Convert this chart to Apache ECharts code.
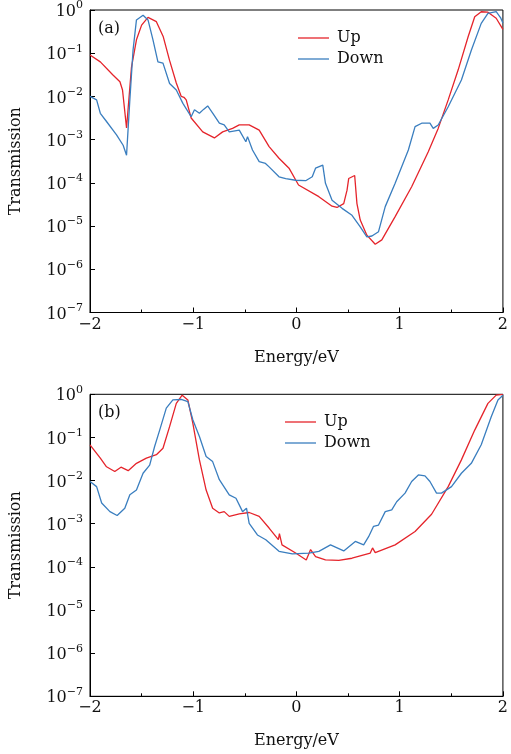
<!DOCTYPE html>
<html>
<head>
<meta charset="utf-8">
<script src="https://cdn.jsdelivr.net/npm/echarts@6/dist/echarts.min.js"></script>
<style>
  html, body { margin: 0; padding: 0; background: #fff; }
  #chart { width: 511px; height: 754px; }
</style>
</head>
<body>
<div id="chart"></div>
<script>
// energies (eV) and log10(transmission)
const upA_E = [-2.00, -1.90, -1.78, -1.71, -1.685, -1.646, -1.598, -1.55, -1.50, -1.438, -1.357, -1.29, -1.23, -1.164, -1.116, -1.09, -1.068, -1.02, -0.908, -0.795, -0.715, -0.619, -0.554, -0.458, -0.361, -0.265, -0.169, -0.072, 0.02, 0.217, 0.345, 0.393, 0.458, 0.49, 0.506, 0.564, 0.586, 0.618, 0.682, 0.763, 0.827, 0.956, 1.116, 1.277, 1.373, 1.47, 1.566, 1.663, 1.727, 1.79, 1.855, 1.935, 2.0]
const upA_log = [-1.04, -1.20, -1.50, -1.66, -1.85, -2.73, -1.32, -0.69, -0.35, -0.17, -0.27, -0.62, -1.16, -1.69, -2.00, -2.02, -2.08, -2.50, -2.82, -2.96, -2.82, -2.74, -2.66, -2.66, -2.78, -3.16, -3.43, -3.66, -4.05, -4.32, -4.54, -4.57, -4.48, -4.17, -3.90, -3.83, -4.48, -4.86, -5.21, -5.42, -5.32, -4.78, -4.09, -3.28, -2.74, -2.08, -1.39, -0.62, -0.155, -0.04, -0.05, -0.19, -0.45]

const downA_E = [-2.00, -1.936, -1.90, -1.84, -1.743, -1.679, -1.646, -1.614, -1.583, -1.55, -1.486, -1.438, -1.39, -1.342, -1.293, -1.229, -1.164, -1.10, -1.02, -0.988, -0.94, -0.90, -0.86, -0.81, -0.747, -0.70, -0.651, -0.554, -0.49, -0.474, -0.426, -0.361, -0.30, -0.265, -0.169, -0.104, -0.008, 0.089, 0.153, 0.185, 0.255, 0.281, 0.345, 0.442, 0.538, 0.618, 0.682, 0.731, 0.795, 0.860, 0.956, 1.084, 1.149, 1.213, 1.293, 1.325, 1.373, 1.47, 1.598, 1.694, 1.79, 1.855, 1.935, 1.98, 2.0]
const downA_log = [-2.00, -2.08, -2.39, -2.58, -2.89, -3.13, -3.36, -2.08, -0.93, -0.23, -0.12, -0.23, -0.69, -1.20, -1.23, -1.70, -1.85, -2.16, -2.47, -2.31, -2.39, -2.30, -2.22, -2.39, -2.62, -2.66, -2.82, -2.78, -3.05, -2.93, -3.24, -3.51, -3.55, -3.63, -3.86, -3.90, -3.94, -3.95, -3.86, -3.66, -3.59, -4.01, -4.40, -4.59, -4.75, -5.02, -5.25, -5.23, -5.13, -4.55, -4.01, -3.24, -2.70, -2.62, -2.62, -2.74, -2.66, -2.24, -1.62, -0.93, -0.31, -0.08, -0.04, -0.19, -0.30]

const upB_E = [-2.00, -1.90, -1.84, -1.76, -1.70, -1.63, -1.55, -1.454, -1.357, -1.293, -1.229, -1.164, -1.107, -1.052, -1.004, -0.94, -0.875, -0.812, -0.747, -0.70, -0.651, -0.554, -0.458, -0.361, -0.265, -0.175, -0.165, -0.14, -0.008, 0.095, 0.137, 0.185, 0.281, 0.41, 0.538, 0.715, 0.737, 0.763, 0.956, 1.149, 1.309, 1.47, 1.598, 1.727, 1.855, 1.935, 2.0]
const upB_log = [-1.17, -1.48, -1.68, -1.79, -1.69, -1.77, -1.60, -1.48, -1.40, -1.25, -0.75, -0.21, -0.02, -0.13, -0.67, -1.52, -2.22, -2.64, -2.75, -2.72, -2.83, -2.77, -2.74, -2.83, -3.10, -3.37, -3.23, -3.49, -3.68, -3.84, -3.60, -3.76, -3.84, -3.85, -3.80, -3.68, -3.56, -3.67, -3.49, -3.18, -2.78, -2.14, -1.52, -0.83, -0.21, -0.02, 0.0]

const downB_E = [-2.00, -1.936, -1.887, -1.807, -1.737, -1.663, -1.614, -1.55, -1.486, -1.422, -1.374, -1.325, -1.261, -1.197, -1.116, -1.052, -1.004, -0.94, -0.875, -0.812, -0.747, -0.651, -0.586, -0.522, -0.484, -0.458, -0.378, -0.297, -0.169, -0.04, 0.12, 0.217, 0.33, 0.458, 0.570, 0.651, 0.699, 0.747, 0.795, 0.860, 0.923, 0.971, 1.052, 1.116, 1.181, 1.245, 1.293, 1.357, 1.405, 1.502, 1.598, 1.694, 1.79, 1.887, 1.952, 2.0]
const downB_log = [-2.02, -2.14, -2.52, -2.72, -2.81, -2.64, -2.33, -2.22, -1.83, -1.64, -1.21, -0.83, -0.32, -0.13, -0.12, -0.17, -0.59, -0.98, -1.44, -1.56, -1.98, -2.33, -2.41, -2.72, -2.64, -2.99, -3.26, -3.37, -3.64, -3.70, -3.68, -3.64, -3.49, -3.63, -3.41, -3.49, -3.30, -3.06, -3.03, -2.72, -2.68, -2.49, -2.29, -2.02, -1.87, -1.89, -2.02, -2.29, -2.29, -2.14, -1.83, -1.60, -1.17, -0.52, -0.13, -0.02]

const seriesNames = ['Up', 'Down']
const panelLabels = ['(a)', '(b)']
const xTicks = [-2, -1, 0, 1, 2]

const RED = '#e5242b'
const BLUE = '#3a7ebf'
const FONT = 'DejaVu Serif'

function toPairs (es, logs) {
  return es.map((e, i) => [e, Math.pow(10, logs[i])])
}

function minusFmt (v) {
  return v < 0 ? '\u2212' + (-v) : String(v)
}

const chart = echarts.init(document.getElementById('chart'))

const grids = [
  { left: 90, top: 10, width: 415, height: 302.5 },
  { left: 90, top: 394.3, width: 415, height: 302 }
]

const xAxes = grids.map((g, i) => ({
  type: 'value',
  gridIndex: i,
  min: xTicks[0],
  max: xTicks[xTicks.length - 1],
  interval: 1,
  name: 'Energy/eV',
  nameLocation: 'middle',
  nameGap: 37,
  nameTextStyle: { fontFamily: FONT, fontSize: 16, color: '#111' },
  axisLine: { show: true, onZero: false, lineStyle: { color: '#000', width: 1 } },
  axisTick: { show: true, inside: true, length: 5, lineStyle: { color: '#000' } },
  minorTick: { show: true, splitNumber: 2, length: 3, lineStyle: { color: '#000' } },
  splitLine: { show: false },
  axisLabel: { fontFamily: FONT, fontSize: 16, color: '#111', margin: 4, formatter: minusFmt }
}))

const yAxes = grids.map((g, i) => ({
  type: 'log',
  gridIndex: i,
  logBase: 10,
  min: 1e-7,
  max: 1,
  interval: 1,
  name: 'Transmission',
  nameLocation: 'middle',
  nameRotate: 90,
  nameGap: 66,
  nameTextStyle: { fontFamily: FONT, fontSize: 16, color: '#111' },
  axisLine: { show: true, onZero: false, lineStyle: { color: '#000', width: 1 } },
  axisTick: { show: true, inside: true, length: 5, lineStyle: { color: '#000' } },
  minorTick: { show: false },
  splitLine: { show: false },
  axisLabel: {
    margin: 7,
    formatter: function (v) {
      const e = Math.round(Math.log10(v))
      return '{b|10}{s|' + minusFmt(e) + '}'
    },
    rich: {
      b: { fontFamily: FONT, fontSize: 16, color: '#111', lineHeight: 20, verticalAlign: 'bottom' },
      s: { fontFamily: FONT, fontSize: 11, color: '#111', lineHeight: 20, verticalAlign: 'top' }
    }
  }
}))

function line (name, data, color, idx) {
  return {
    name: name,
    type: 'line',
    xAxisIndex: idx,
    yAxisIndex: idx,
    data: data,
    symbol: 'none',
    smooth: false,
    lineStyle: { color: color, width: 1.3 },
    itemStyle: { color: color },
    animation: false
  }
}

const option = {
  backgroundColor: '#fff',
  animation: false,
  grid: grids.map(g => Object.assign({ show: true, borderColor: '#000', borderWidth: 1, backgroundColor: 'transparent' }, g)),
  xAxis: xAxes,
  yAxis: yAxes,
  legend: [
    { left: 293, top: 24 },
    { left: 280, top: 408 }
  ].map(p => ({
    left: p.left,
    top: p.top,
    orient: 'vertical',
    data: seriesNames,
    icon: 'rect',
    itemWidth: 31,
    itemHeight: 1.3,
    itemGap: 3,
    textStyle: { fontFamily: FONT, fontSize: 16, color: '#111', lineHeight: 18, padding: [0, 0, 0, 3] }
  })),
  graphic: panelLabels.map((t, i) => ({
    type: 'text',
    left: 98,
    top: i === 0 ? 21 : 405,
    style: { text: t, font: '16px "' + FONT + '"', fill: '#111' }
  })),
  series: [
    line(seriesNames[0], toPairs(upA_E, upA_log), RED, 0),
    line(seriesNames[1], toPairs(downA_E, downA_log), BLUE, 0),
    line(seriesNames[0], toPairs(upB_E, upB_log), RED, 1),
    line(seriesNames[1], toPairs(downB_E, downB_log), BLUE, 1)
  ]
}

chart.setOption(option)
</script>
</body>
</html>
